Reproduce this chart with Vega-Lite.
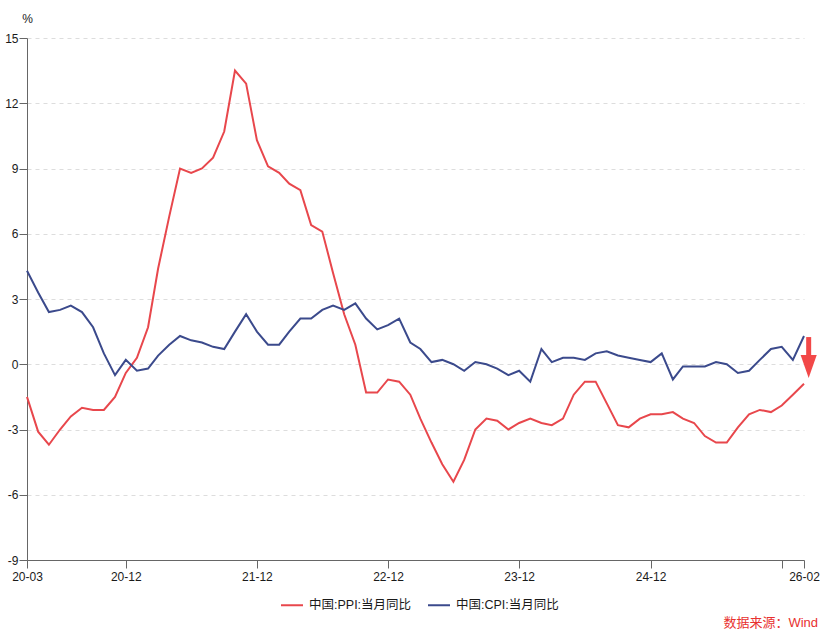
{
  "$schema": "https://vega.github.io/schema/vega-lite/v6.json",
  "width": 777,
  "height": 522,
  "autosize": "none",
  "padding": {"left": 27, "top": 38, "right": 26, "bottom": 70},
  "background": "white",
  "config": {
    "font": "Liberation Sans, Noto Sans CJK SC",
    "view": {"stroke": null}
  },
  "data": {
    "values": [
      {"m": "2020-03", "ppi": -1.5, "cpi": 4.3},
      {"m": "2020-04", "ppi": -3.1, "cpi": 3.3},
      {"m": "2020-05", "ppi": -3.7, "cpi": 2.4},
      {"m": "2020-06", "ppi": -3.0, "cpi": 2.5},
      {"m": "2020-07", "ppi": -2.4, "cpi": 2.7},
      {"m": "2020-08", "ppi": -2.0, "cpi": 2.4},
      {"m": "2020-09", "ppi": -2.1, "cpi": 1.7},
      {"m": "2020-10", "ppi": -2.1, "cpi": 0.5},
      {"m": "2020-11", "ppi": -1.5, "cpi": -0.5},
      {"m": "2020-12", "ppi": -0.4, "cpi": 0.2},
      {"m": "2021-01", "ppi": 0.3, "cpi": -0.3},
      {"m": "2021-02", "ppi": 1.7, "cpi": -0.2},
      {"m": "2021-03", "ppi": 4.4, "cpi": 0.4},
      {"m": "2021-04", "ppi": 6.8, "cpi": 0.9},
      {"m": "2021-05", "ppi": 9.0, "cpi": 1.3},
      {"m": "2021-06", "ppi": 8.8, "cpi": 1.1},
      {"m": "2021-07", "ppi": 9.0, "cpi": 1.0},
      {"m": "2021-08", "ppi": 9.5, "cpi": 0.8},
      {"m": "2021-09", "ppi": 10.7, "cpi": 0.7},
      {"m": "2021-10", "ppi": 13.5, "cpi": 1.5},
      {"m": "2021-11", "ppi": 12.9, "cpi": 2.3},
      {"m": "2021-12", "ppi": 10.3, "cpi": 1.5},
      {"m": "2022-01", "ppi": 9.1, "cpi": 0.9},
      {"m": "2022-02", "ppi": 8.8, "cpi": 0.9},
      {"m": "2022-03", "ppi": 8.3, "cpi": 1.5},
      {"m": "2022-04", "ppi": 8.0, "cpi": 2.1},
      {"m": "2022-05", "ppi": 6.4, "cpi": 2.1},
      {"m": "2022-06", "ppi": 6.1, "cpi": 2.5},
      {"m": "2022-07", "ppi": 4.2, "cpi": 2.7},
      {"m": "2022-08", "ppi": 2.3, "cpi": 2.5},
      {"m": "2022-09", "ppi": 0.9, "cpi": 2.8},
      {"m": "2022-10", "ppi": -1.3, "cpi": 2.1},
      {"m": "2022-11", "ppi": -1.3, "cpi": 1.6},
      {"m": "2022-12", "ppi": -0.7, "cpi": 1.8},
      {"m": "2023-01", "ppi": -0.8, "cpi": 2.1},
      {"m": "2023-02", "ppi": -1.4, "cpi": 1.0},
      {"m": "2023-03", "ppi": -2.5, "cpi": 0.7},
      {"m": "2023-04", "ppi": -3.6, "cpi": 0.1},
      {"m": "2023-05", "ppi": -4.6, "cpi": 0.2},
      {"m": "2023-06", "ppi": -5.4, "cpi": 0.0},
      {"m": "2023-07", "ppi": -4.4, "cpi": -0.3},
      {"m": "2023-08", "ppi": -3.0, "cpi": 0.1},
      {"m": "2023-09", "ppi": -2.5, "cpi": 0.0},
      {"m": "2023-10", "ppi": -2.6, "cpi": -0.2},
      {"m": "2023-11", "ppi": -3.0, "cpi": -0.5},
      {"m": "2023-12", "ppi": -2.7, "cpi": -0.3},
      {"m": "2024-01", "ppi": -2.5, "cpi": -0.8},
      {"m": "2024-02", "ppi": -2.7, "cpi": 0.7},
      {"m": "2024-03", "ppi": -2.8, "cpi": 0.1},
      {"m": "2024-04", "ppi": -2.5, "cpi": 0.3},
      {"m": "2024-05", "ppi": -1.4, "cpi": 0.3},
      {"m": "2024-06", "ppi": -0.8, "cpi": 0.2},
      {"m": "2024-07", "ppi": -0.8, "cpi": 0.5},
      {"m": "2024-08", "ppi": -1.8, "cpi": 0.6},
      {"m": "2024-09", "ppi": -2.8, "cpi": 0.4},
      {"m": "2024-10", "ppi": -2.9, "cpi": 0.3},
      {"m": "2024-11", "ppi": -2.5, "cpi": 0.2},
      {"m": "2024-12", "ppi": -2.3, "cpi": 0.1},
      {"m": "2025-01", "ppi": -2.3, "cpi": 0.5},
      {"m": "2025-02", "ppi": -2.2, "cpi": -0.7},
      {"m": "2025-03", "ppi": -2.5, "cpi": -0.1},
      {"m": "2025-04", "ppi": -2.7, "cpi": -0.1},
      {"m": "2025-05", "ppi": -3.3, "cpi": -0.1},
      {"m": "2025-06", "ppi": -3.6, "cpi": 0.1},
      {"m": "2025-07", "ppi": -3.6, "cpi": 0.0},
      {"m": "2025-08", "ppi": -2.9, "cpi": -0.4},
      {"m": "2025-09", "ppi": -2.3, "cpi": -0.3},
      {"m": "2025-10", "ppi": -2.1, "cpi": 0.2},
      {"m": "2025-11", "ppi": -2.2, "cpi": 0.7},
      {"m": "2025-12", "ppi": -1.9, "cpi": 0.8},
      {"m": "2026-01", "ppi": -1.4, "cpi": 0.2},
      {"m": "2026-02", "ppi": -0.9, "cpi": 1.3}
    ]
  },
  "layer": [
    {
      "transform": [{"fold": ["ppi", "cpi"], "as": ["k", "v"]}],
      "mark": {"type": "line", "strokeWidth": 2},
      "encoding": {
        "x": {
          "field": "m",
          "type": "temporal",
          "scale": {
            "type": "utc",
            "domain": [
              {"year": 2020, "month": 3, "utc": true},
              {"year": 2026, "month": 2, "utc": true}
            ]
          },
          "axis": {
            "values": [
              {"year": 2020, "month": 3, "utc": true},
              {"year": 2020, "month": 12, "utc": true},
              {"year": 2021, "month": 12, "utc": true},
              {"year": 2022, "month": 12, "utc": true},
              {"year": 2023, "month": 12, "utc": true},
              {"year": 2024, "month": 12, "utc": true},
              {"year": 2025, "month": 12, "utc": true},
              {"year": 2026, "month": 2, "utc": true}
            ],
            "format": "%y-%m",
            "labelExpr": "datum.label == '25-12' ? '' : datum.label",
            "title": null,
            "grid": false,
            "domainColor": "#666",
            "tickColor": "#666",
            "tickSize": 8,
            "labelFontSize": 12,
            "labelColor": "#1a1a1a",
            "labelPadding": 3,
            "labelOverlap": false,
            "labelFlush": false
          }
        },
        "y": {
          "field": "v",
          "type": "quantitative",
          "scale": {"domain": [-9, 15], "nice": false, "zero": false},
          "axis": {
            "values": [-9, -6, -3, 0, 3, 6, 9, 12, 15],
            "labelExpr": "datum.value + ''",
            "title": "%",
            "titleAngle": 0,
            "titleX": 0,
            "titleY": -13,
            "titleAlign": "center",
            "titleBaseline": "bottom",
            "titleFontWeight": "normal",
            "titleFontSize": 12,
            "titleColor": "#1a1a1a",
            "grid": true,
            "gridDash": [4, 4],
            "gridColor": "#ddd",
            "domainColor": "#666",
            "tickColor": "#666",
            "tickSize": 8,
            "labelPadding": 1,
            "labelFontSize": 12,
            "labelColor": "#1a1a1a"
          }
        },
        "color": {
          "field": "k",
          "type": "nominal",
          "scale": {"domain": ["ppi", "cpi"], "range": ["#e8474c", "#3b4a8c"]},
          "legend": {
            "orient": "none",
            "legendX": 253,
            "legendY": 555,
            "direction": "horizontal",
            "title": null,
            "symbolType": "stroke",
            "symbolSize": 484,
            "symbolStrokeWidth": 2,
            "labelFontSize": 12.5,
            "labelColor": "#1a1a1a",
            "columnPadding": 12,
            "labelOffset": 5,
            "labelExpr": "datum.value == 'ppi' ? '中国:PPI:当月同比' : '中国:CPI:当月同比'"
          }
        }
      }
    },
    {
      "data": {"values": [{}]},
      "mark": {"type": "rule", "color": "#f24848", "strokeWidth": 5},
      "encoding": {
        "x": {"datum": {"year": 2026, "month": 2, "date": 14, "utc": true}, "type": "temporal"},
        "y": {"datum": 1.25, "type": "quantitative"},
        "y2": {"datum": 0.35}
      }
    },
    {
      "data": {"values": [{}]},
      "mark": {
        "type": "point",
        "shape": "M-0.7,-1L0.7,-1L0,1Z",
        "filled": true,
        "color": "#f24848",
        "opacity": 1,
        "size": 530,
        "strokeWidth": 0
      },
      "encoding": {
        "x": {"datum": {"year": 2026, "month": 2, "date": 14, "utc": true}, "type": "temporal"},
        "y": {"datum": -0.1, "type": "quantitative"}
      }
    },
    {
      "data": {"values": [{}]},
      "mark": {
        "type": "text",
        "text": "数据来源：Wind",
        "align": "right",
        "baseline": "alphabetic",
        "fill": "#e8312f",
        "fontWeight": "normal",
        "fontSize": 13
      },
      "encoding": {
        "x": {"datum": {"year": 2026, "month": 3, "date": 12, "utc": true}, "type": "temporal"},
        "y": {"datum": -12.1, "type": "quantitative"}
      }
    }
  ]
}
